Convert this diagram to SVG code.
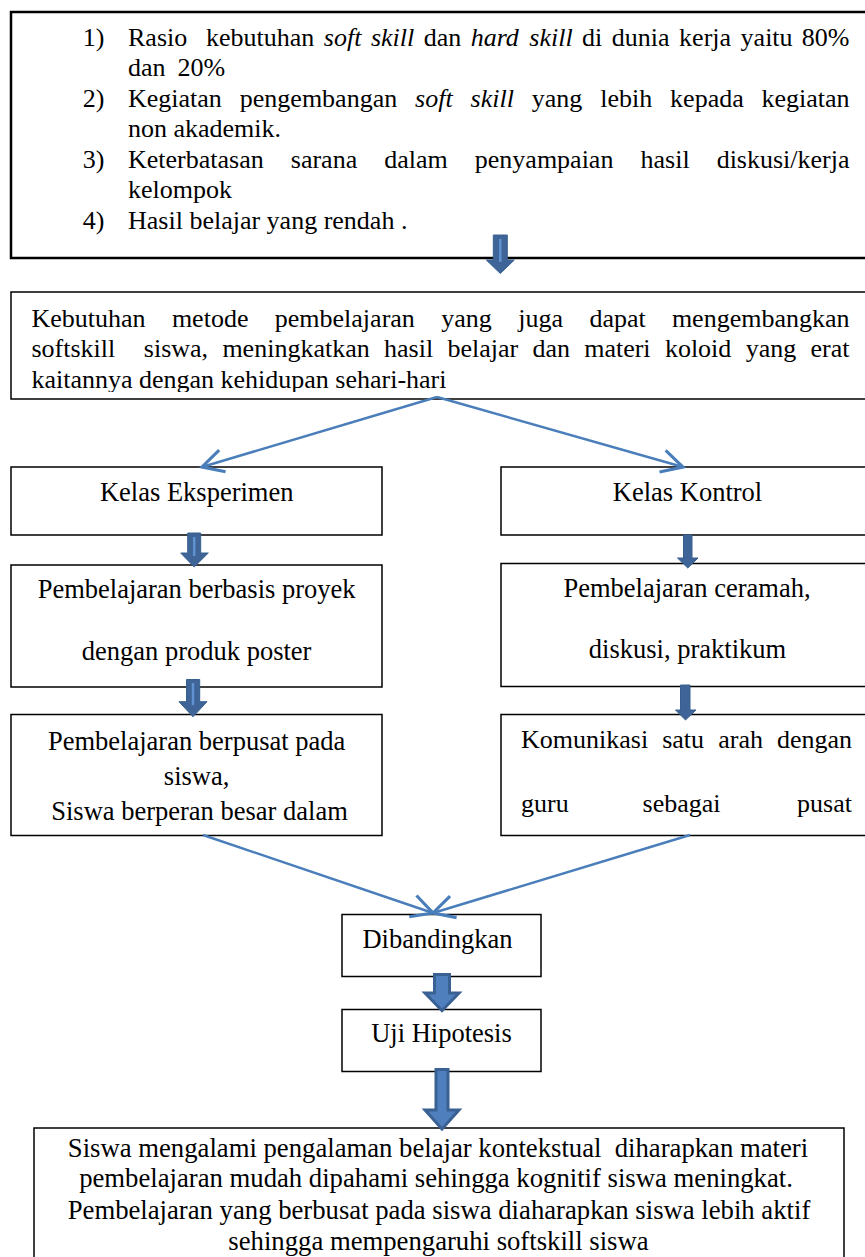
<svg xmlns="http://www.w3.org/2000/svg" width="865" height="1257" viewBox="0 0 865 1257" font-family="'Liberation Serif', 'DejaVu Serif', serif">
<style>
  .box { fill: #ffffff; stroke: #000000; stroke-width: 1.5; }
  .boxb { fill: #ffffff; stroke: #000000; stroke-width: 2.5; }
  text { font-family: 'Liberation Serif', 'DejaVu Serif', serif; font-size: 26px; fill: #000000; }
  .m { font-size: 26.5px; }
  .b { font-size: 26.7px; }
  .c { text-anchor: middle; }
  .e { text-anchor: end; }
  .i { font-style: italic; }
  .conn { fill: none; stroke: #4a7ebb; stroke-width: 2.5; }
  .barrow { fill: #3f6598; stroke: #38608f; stroke-width: 1; }
  .barrowL { fill: #4f80bd; stroke: #3a6194; stroke-width: 3; stroke-linejoin: miter; }
  .stripe { stroke: #5f92cf; stroke-width: 2.5; }
</style>
<defs>
  <marker id="open" markerUnits="userSpaceOnUse" markerWidth="30" markerHeight="30" viewBox="-20 -12 24 24" refX="0" refY="0" orient="auto">
    <path d="M-17,-9 L0,0 L-17,9" fill="none" stroke="#4a7ebb" stroke-width="2.5"/>
  </marker>
  <clipPath id="clip2"><rect x="0" y="292" width="865" height="100"/></clipPath>
</defs>

<g id="node-masalah">
  <rect class="boxb" x="11" y="12" width="870" height="246"/>
  <text x="82.7" y="46">1)</text>
  <text y="46"><tspan x="128">Rasio</tspan><tspan x="206">kebutuhan</tspan><tspan x="323.8" class="i">soft</tspan><tspan x="370.9" class="i">skill</tspan><tspan x="423.7">dan</tspan><tspan x="470.7" class="i">hard</tspan><tspan x="529.3" class="i">skill</tspan><tspan x="582.1">di</tspan><tspan x="611.8">dunia</tspan><tspan x="679.1">kerja</tspan><tspan x="740.6">yaitu</tspan></text>
  <text x="849.5" y="46" class="e">80%</text>
  <text y="76"><tspan x="128">dan</tspan><tspan x="177.6">20%</tspan></text>
  <text x="82.7" y="107">2)</text>
  <text y="107"><tspan x="128">Kegiatan</tspan><tspan x="239.8">pengembangan</tspan><tspan x="415.1" class="i">soft</tspan><tspan x="470.6" class="i">skill</tspan><tspan x="531.8">yang</tspan><tspan x="600.2">lebih</tspan><tspan x="670.1">kepada</tspan></text>
  <text x="849.5" y="107" class="e">kegiatan</text>
  <text x="128" y="137">non akademik.</text>
  <text x="82.7" y="168">3)</text>
  <text y="168"><tspan x="128">Keterbatasan</tspan><tspan x="290.8">sarana</tspan><tspan x="384.2">dalam</tspan><tspan x="474.8">penyampaian</tspan><tspan x="640.5">hasil</tspan></text>
  <text x="849.5" y="168" class="e">diskusi/kerja</text>
  <text x="128" y="198">kelompok</text>
  <text x="82.7" y="229">4)</text>
  <text x="128" y="229">Hasil belajar yang rendah .</text>
</g>

<g id="node-kebutuhan">
  <rect class="box" x="11" y="292" width="870" height="107"/>
  <g clip-path="url(#clip2)">
    <text y="327"><tspan x="31.4">Kebutuhan</tspan><tspan x="171.9">metode</tspan><tspan x="274.8">pembelajaran</tspan><tspan x="441.3">yang</tspan><tspan x="518.2">juga</tspan><tspan x="589.4">dapat</tspan></text>
    <text x="849.5" y="327" class="e">mengembangkan</text>
    <text y="357"><tspan x="31.4">softskill</tspan><tspan x="143.8">siswa,</tspan><tspan x="222.4">meningkatkan</tspan><tspan x="384">hasil</tspan><tspan x="447.4">belajar</tspan><tspan x="532.4">dan</tspan><tspan x="584.2">materi</tspan><tspan x="664.9">koloid</tspan><tspan x="745.7">yang</tspan></text>
    <text x="849.5" y="357" class="e">erat</text>
    <text x="31.4" y="388">kaitannya dengan kehidupan sehari-hari</text>
  </g>
</g>

<g id="node-eksperimen">
  <rect class="box" x="11" y="467" width="371" height="68"/>
  <text x="196.7" y="501" class="c m">Kelas Eksperimen</text>
</g>
<g id="node-kontrol">
  <rect class="box" x="501" y="467" width="380" height="68"/>
  <text x="687.5" y="501" class="c m">Kelas Kontrol</text>
</g>

<g id="node-pjbl">
  <rect class="box" x="11" y="565" width="371" height="122"/>
  <text x="196.6" y="598" class="c m">Pembelajaran berbasis proyek</text>
  <text x="196.6" y="660" class="c m">dengan produk poster</text>
</g>
<g id="node-ceramah">
  <rect class="box" x="501" y="563.5" width="380" height="123"/>
  <text x="687" y="597" class="c m">Pembelajaran ceramah,</text>
  <text x="687.5" y="658" class="c m">diskusi, praktikum</text>
</g>

<g id="node-berpusat">
  <rect class="box" x="11" y="714.5" width="371" height="121"/>
  <text x="196.6" y="750" class="c m">Pembelajaran berpusat pada</text>
  <text x="196.6" y="785" class="c m">siswa,</text>
  <text x="199.5" y="820" class="c m">Siswa berperan besar dalam</text>
</g>
<g id="node-komunikasi">
  <rect class="box" x="501" y="714.5" width="380" height="121"/>
  <text y="748"><tspan x="521">Komunikasi</tspan><tspan x="662.2">satu</tspan><tspan x="718.2">arah</tspan></text>
  <text x="852" y="748" class="e">dengan</text>
  <text y="811.5"><tspan x="521">guru</tspan><tspan x="642.6">sebagai</tspan></text>
  <text x="852" y="811.5" class="e">pusat</text>
</g>

<g id="node-dibandingkan">
  <rect class="box" x="342" y="914.5" width="199" height="62"/>
  <text x="437.5" y="948" class="c m">Dibandingkan</text>
</g>
<g id="node-uji">
  <rect class="box" x="342" y="1009.5" width="199" height="62"/>
  <text x="441.5" y="1041.5" class="c m">Uji Hipotesis</text>
</g>

<g id="node-hasil">
  <rect class="box" x="34" y="1128" width="810" height="150"/>
  <text x="438" y="1157" class="c b" xml:space="preserve">Siswa mengalami pengalaman belajar kontekstual  diharapkan materi</text>
  <text x="436" y="1187" class="c b">pembelajaran mudah dipahami sehingga kognitif siswa meningkat.</text>
  <text x="439" y="1218.5" class="c b">Pembelajaran yang berbusat pada siswa diaharapkan siswa lebih aktif</text>
  <text x="438.5" y="1250" class="c b">sehingga mempengaruhi softskill siswa</text>
</g>

<g id="connectors">
  <line class="conn" x1="437" y1="397" x2="202" y2="467" marker-end="url(#open)"/>
  <line class="conn" x1="437" y1="397" x2="683" y2="467" marker-end="url(#open)"/>
  <line class="conn" x1="203" y1="835" x2="433" y2="913" marker-end="url(#open)"/>
  <line class="conn" x1="690" y1="835" x2="433" y2="913" marker-end="url(#open)"/>

  <polygon class="barrow" points="493.3,235 507.3,235 507.3,260 514.3,260 500.3,273.5 486.3,260 493.3,260"/>
  <line class="stripe" x1="500.3" y1="239" x2="500.3" y2="262"/>

  <polygon class="barrow" points="187.7,533 200.7,533 200.7,553 208.3,553 194.2,567 180.7,553 187.7,553"/>
  <line class="stripe" x1="194.2" y1="537" x2="194.2" y2="556"/>

  <polygon class="barrow" points="683.5,535 692,535 692,558 698,558 687.8,568 677.5,558 683.5,558"/>

  <polygon class="barrow" points="186.5,679.5 199.7,679.5 199.7,701.7 207,701.7 193,716.8 179,701.7 186.5,701.7"/>
  <line class="stripe" x1="193" y1="683" x2="193" y2="705"/>

  <polygon class="barrow" points="680.5,685 690,685 690,710 696,710 685.5,720 675.5,710 680.5,710"/>

  <polygon class="barrowL" points="434.5,974.5 449.5,974.5 449.5,993 459,993 442,1010.5 425,993 434.5,993"/>

  <polygon class="barrowL" points="436,1069.5 448,1069.5 448,1110 459,1110 442,1129 425,1110 436,1110"/>
</g>
</svg>
